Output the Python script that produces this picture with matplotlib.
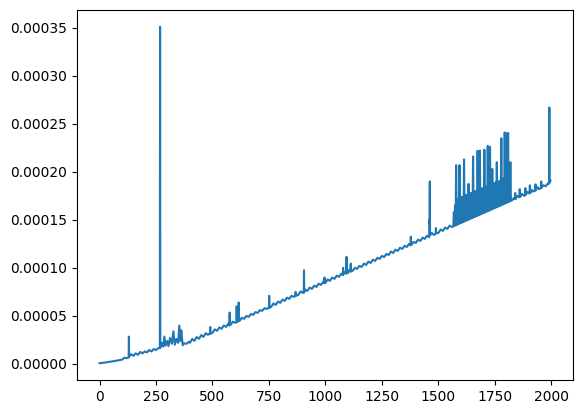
"""Per-step timing trace: one long line with a few outlier spikes."""

import numpy as np
import matplotlib
matplotlib.use("Agg")
import matplotlib.pyplot as plt

# (step, value) vertices, value in units of 1e-6
pts_start = [(0, 0.8), (20, 1.3), (40, 2.0), (60, 2.8), (80, 3.6), (100, 4.5),
             (110, 6.5), (118, 6.0), (129, 6.8), (130, 28.5), (131, 7.5),
             (140, 10), (150, 8.5), (160, 11), (170, 9.5), (180, 12.5),
             (190, 11.0), (200, 13), (210, 12.0), (220, 14.5), (230, 13.0),
             (240, 15.5), (250, 14.5), (260, 16.5), (267, 16.5), (268, 351),
             (269, 17.0), (275, 22), (282, 18), (287, 28.5), (292, 19), (300, 24),
             (305, 18.5), (312, 27), (320, 21), (327, 34), (333, 20), (340, 26),
             (348, 22), (353, 40), (358, 24), (362, 35), (368, 19.5), (375, 21.5),
             (385, 21.0), (395, 23)]

pts_mid = [(400, 22.0), (410, 26), (420, 24.1), (430, 28), (440, 26.2), (450, 30),
           (460, 28.2), (470, 32), (480, 30.3), (489, 32), (490, 38.5), (491, 31.5),
           (500, 32.4), (510, 36), (520, 34.5), (530, 38), (540, 36.6), (550, 40),
           (560, 38.6), (570, 42), (575, 40), (576, 53.5), (577, 40.5), (580, 40.7),
           (590, 44), (600, 42.8), (606, 43.5), (607, 60), (608, 43.5), (615, 44.5),
           (616, 64), (617, 45), (620, 44.9), (630, 48), (640, 47.0), (650, 50),
           (660, 49.0), (670, 52), (680, 51.1), (690, 54), (700, 53.2), (710, 56),
           (720, 55.3), (730, 58), (740, 57.4), (750, 58.5), (751, 71), (752, 58.6),
           (760, 59.4), (770, 63), (780, 61.5), (790, 65), (800, 63.6), (810, 67),
           (820, 65.7), (830, 69), (840, 67.8), (850, 71), (860, 69.8), (867, 71),
           (868, 75), (869, 71), (880, 71.9), (890, 75.5), (900, 74.0), (904, 74.5),
           (905, 97.5), (906, 74.5), (910, 77.5), (920, 76.1), (930, 79.5),
           (940, 78.2), (950, 81.5), (960, 80.2), (970, 83.5), (980, 82.3),
           (990, 85.5), (995, 84), (996, 90), (997, 84.5), (1000, 84.4), (1010, 88),
           (1020, 86.5), (1030, 90), (1040, 88.6), (1050, 92), (1060, 90.6),
           (1070, 94), (1077, 92.5), (1078, 100), (1079, 93), (1085, 96), (1092, 94),
           (1093, 111.5), (1094, 94.5), (1100, 94.8), (1105, 98), (1111, 96),
           (1112, 104.5), (1113, 96.5), (1120, 96.9), (1130, 100), (1140, 99.0),
           (1150, 102), (1160, 101.0), (1170, 104.5), (1180, 103.1), (1190, 106.5),
           (1200, 105.2), (1210, 108.5), (1220, 107.3), (1230, 110.5), (1240, 109.4),
           (1250, 112.5), (1260, 111.4), (1270, 114.5), (1280, 113.5), (1290, 117),
           (1300, 115.6), (1310, 119), (1320, 117.7), (1330, 121), (1340, 119.8),
           (1350, 123), (1360, 121.8), (1370, 125), (1377, 123.5), (1378, 132.5),
           (1379, 124), (1380, 123.9), (1390, 127), (1400, 126.0), (1410, 129.5),
           (1420, 128.1), (1430, 131.5), (1440, 130.2), (1450, 133.5), (1459, 132),
           (1460, 150), (1461, 146), (1462, 190), (1463, 134), (1470, 136.5),
           (1480, 134.3), (1488, 136), (1489, 141.5), (1490, 136), (1500, 136.4),
           (1510, 140), (1520, 138.5), (1530, 142), (1540, 140.6), (1550, 144),
           (1560, 142.6)]

# the noisy stretch: the line jumps between baseline and a spike every few steps
pts_band = [(1566, 143.3), (1568.5, 158), (1571, 143.8), (1573.5, 165),
            (1576, 144.3), (1578.5, 207), (1581, 144.8), (1583.5, 170),
            (1586, 145.3), (1588.5, 172), (1591, 145.9), (1593.5, 207),
            (1596, 146.4), (1598.5, 172), (1601, 146.9), (1603.5, 174),
            (1606, 147.4), (1608.5, 173), (1611, 147.9), (1613.5, 213),
            (1616, 148.5), (1618.5, 175), (1621, 149.0), (1623.5, 176),
            (1626, 149.5), (1628.5, 175), (1631, 150.0), (1633.5, 187.5),
            (1636, 150.5), (1638.5, 177), (1641, 151.1), (1643.5, 178),
            (1646, 151.6), (1648.5, 177), (1651, 152.1), (1653.5, 216),
            (1656, 152.6), (1658.5, 179), (1661, 153.1), (1663.5, 180),
            (1666, 153.7), (1668.5, 179), (1671, 154.2), (1673.5, 222),
            (1676, 154.7), (1678.5, 181), (1681, 155.2), (1683.5, 222),
            (1686, 155.7), (1688.5, 182), (1691, 156.3), (1693.5, 183),
            (1696, 156.8), (1698.5, 182), (1701, 157.3), (1703.5, 223),
            (1706, 157.8), (1708.5, 184), (1711, 158.3), (1713.5, 185),
            (1716, 158.9), (1718.5, 227), (1721, 159.4), (1723.5, 185),
            (1726, 159.9), (1728.5, 226), (1731, 160.4), (1733.5, 187),
            (1736, 160.9), (1738.5, 203), (1741, 161.5), (1743.5, 188),
            (1746, 162.0), (1748.5, 187), (1751, 162.5), (1753.5, 189),
            (1756, 163.0), (1758.5, 210), (1761, 163.5), (1763.5, 190),
            (1766, 164.1), (1768.5, 189), (1771, 164.6), (1773.5, 191),
            (1776, 165.1), (1778.5, 235), (1781, 165.6), (1783.5, 192),
            (1786, 166.1), (1788.5, 193), (1791, 166.7), (1793.5, 241),
            (1796, 167.2), (1798.5, 240), (1801, 167.7), (1803.5, 240),
            (1806, 168.2), (1808.5, 240.5), (1811, 168.7), (1813.5, 196),
            (1816, 169.3), (1818.5, 210), (1821, 169.8)]

pts_end = [(1826, 170.3), (1835, 173), (1839, 171.5), (1840, 178), (1841, 171.7),
           (1850, 175), (1858, 173.5), (1860, 182), (1862, 174), (1870, 177),
           (1880, 175), (1884, 176), (1885, 183), (1886, 176), (1895, 179),
           (1903, 177.5), (1905, 186), (1907, 178), (1915, 181), (1920, 179.5),
           (1929, 180.5), (1930, 187), (1931, 181), (1940, 184), (1945, 182),
           (1954, 183), (1955, 190), (1956, 183.5), (1965, 186), (1975, 185),
           (1985, 188), (1989, 187.5), (1990, 190), (1991, 267), (1992, 192),
           (1994, 189), (1996, 191)]


def trace():
    pts = np.array(pts_start + pts_mid + pts_band + pts_end, dtype=float)
    x, y = pts[:, 0], pts[:, 1] * 1e-6
    fig = plt.figure(figsize=(5.83, 4.13), dpi=100)
    ax = fig.add_axes([77 / 583, 33 / 413, 496 / 583, 370 / 413])
    ax.plot(x, y, color="#1f77b4", lw=1.5)
    return fig


fig = trace()
fig.savefig("out.png", dpi=100)
